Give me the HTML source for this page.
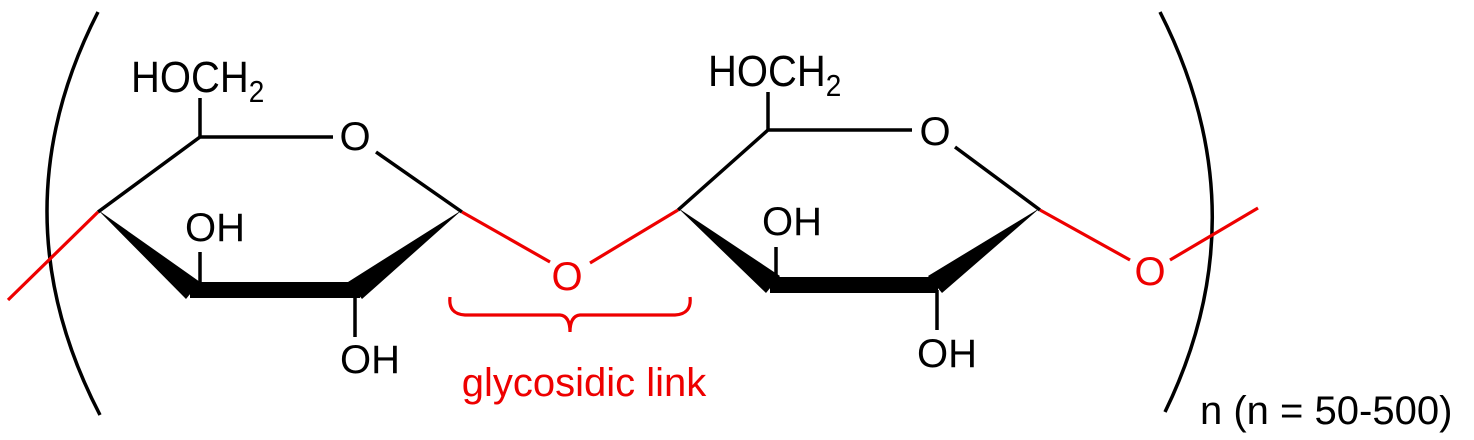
<!DOCTYPE html>
<html><head><meta charset="utf-8"><style>html,body{margin:0;padding:0;background:#fff}svg{display:block}</style></head>
<body>
<svg width="1474" height="440" viewBox="0 0 1474 440" xmlns="http://www.w3.org/2000/svg" font-family="Liberation Sans, Arial, sans-serif">
<g fill="none" stroke="#000" stroke-width="3.5">
<path d="M98,12 Q-5,213 100,415"/>
<path d="M1160,12 Q1262,213 1165,412"/>
<path d="M98,212 L200,137 L333,137"/>
<path d="M376,152 L462,212"/>
<path d="M200,137 L200,98"/>
<path d="M200,287 L200,252"/>
<path d="M355,292 L355,337"/>
<path d="M678,210 L768,130 L912,130"/>
<path d="M955,147 L1040,210"/>
<path d="M768,130 L768,92"/>
<path d="M776,282 L776,247"/>
<path d="M937,290 L937,330"/>
</g>
<g fill="#000">
<polygon points="98,210 186,299 200,282"/>
<polygon points="462,210 348,282 362,299"/>
<rect x="190" y="282" width="170" height="16"/>
<polygon points="678,208 766,293 780,276"/>
<polygon points="1040,208 928,276 942,293"/>
<rect x="770" y="277" width="168" height="16"/>
</g>
<g fill="none" stroke="#e00" stroke-width="3.2">
<path d="M98,212 L8,300"/>
<path d="M462,212 L550,262"/>
<path d="M590,263 L678,210"/>
<path d="M1040,210 L1130,260"/>
<path d="M1170,260 L1258,208"/>
<path d="M450,297 Q448,314 465,315 L560,315 Q570,316 570,332 Q570,316 580,315 L675,315 Q692,314 690,297"/>
</g>
<g font-size="40" fill="#000">
<text x="131" y="92" transform="translate(0,-9) scale(1,1.1)">HOCH<tspan font-size="28" dy="9">2</tspan></text>
<text x="708" y="86" transform="translate(0,-8.6) scale(1,1.1)">HOCH<tspan font-size="28" dy="9">2</tspan></text>
</g>
<g font-size="40" fill="#000" text-anchor="middle">
<text x="355" y="150">O</text>
<text x="215" y="241">OH</text>
<text x="370" y="373">OH</text>
<text x="935" y="145">O</text>
<text x="792" y="235">OH</text>
<text x="947" y="367">OH</text>
</g>
<g font-size="40" fill="#e00" text-anchor="middle">
<text x="567" y="290">O</text>
<text x="1150" y="285">O</text>
</g>
<text x="584" y="396" font-size="40" fill="#e00" text-anchor="middle">glycosidic link</text>
<text x="1200" y="424" font-size="40" fill="#000">n (n = 50-500)</text>
</svg>
</body></html>
